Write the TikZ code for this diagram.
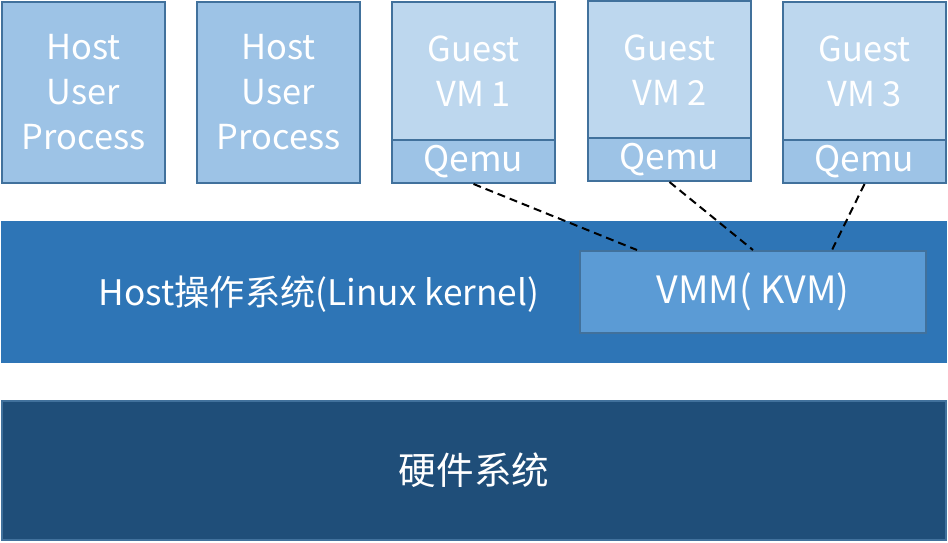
\documentclass[tikz,border=0pt]{standalone}
\usepackage{fontspec}
\setmainfont{Noto Sans CJK SC}
\usepackage{tikz}
\usetikzlibrary{positioning}

\definecolor{procfill}{HTML}{9DC3E6}
\definecolor{guestfill}{HTML}{BDD7EE}
\definecolor{boxline}{HTML}{41719C}
\definecolor{osfill}{HTML}{2E75B6}
\definecolor{vmmfill}{HTML}{5B9BD5}
\definecolor{hwfill}{HTML}{1F4E79}

\begin{document}
\begin{tikzpicture}[x=0.5pt,y=-0.5pt,
    every node/.style={text=white,font=\fontsize{17.2}{22.5}\selectfont,align=center,inner sep=0pt},
    big/.style={font=\fontsize{18.8}{22.5}\selectfont},
    proc/.style={draw=boxline,line width=1pt,fill=procfill,minimum width=81.5pt,minimum height=90.5pt},
    guest/.style={draw=boxline,line width=1pt,fill=guestfill,minimum width=81.5pt,minimum height=69pt},
    qemubox/.style={draw=boxline,line width=1pt,fill=procfill,minimum width=81.5pt,minimum height=21.5pt,font=\fontsize{17.6}{22.5}\selectfont},
    layer/.style={line width=1pt,minimum width=472pt},
    link/.style={line width=1pt,dash pattern=on 4pt off 2.5pt}]
      \useasboundingbox (0,0) rectangle (948,542);
      % host processes
      \node[proc] (hup1) at (83.5,92.5) {Host\\User\\Process};
      \node[proc] (hup2) at (278.5,92.5) {Host\\User\\Process};
      % guests with their qemu
      \node[guest] (guest1) at (473.5,71) {Guest\\VM 1};
      \node[qemubox] (qemu1) at (473.5,161.5) {Qemu};
      \node[guest] (guest2) at (669.5,70) {Guest\\VM 2};
      \node[qemubox] (qemu2) at (669.5,159.5) {Qemu};
      \node[guest] (guest3) at (864.5,71) {Guest\\VM 3};
      \node[qemubox] (qemu3) at (864.5,161.5) {Qemu};
      % kernel layer
      \node[layer,draw=osfill,fill=osfill,minimum height=70pt] (hostos) at (474,292) {};
      \node[font=\fontsize{17.6}{22.5}\selectfont] (hostoslabel) at (319,294) {Host操作系统(Linux kernel)};
      \node[big,draw=boxline,line width=1pt,fill=vmmfill,minimum width=173pt,minimum height=41pt] (vmm) at (753,292) {VMM( KVM)};
      % hardware
      \node[big,layer,draw=boxline,fill=hwfill,minimum height=69.5pt] (hw) at (474,470.5) {硬件系统};
      \draw[link] (qemu1.south) -- ([xshift=-58pt]vmm.north);
      \draw[link] (qemu2.south) -- (vmm.north);
      \draw[link] (qemu3.south) -- ([xshift=39.5pt]vmm.north);
\end{tikzpicture}
\end{document}
